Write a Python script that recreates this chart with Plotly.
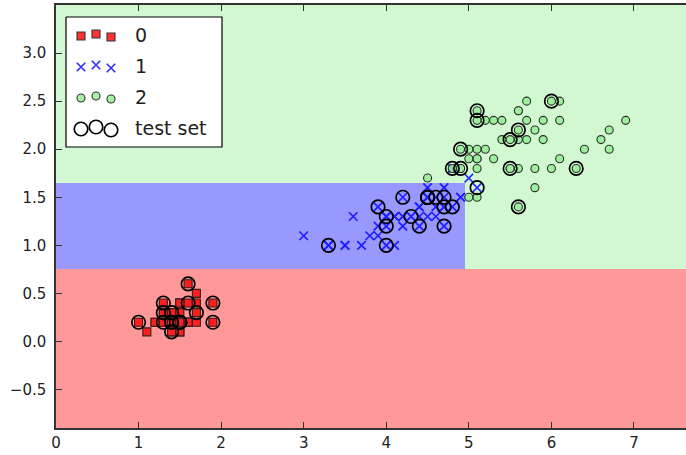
import plotly.graph_objects as go

# Iris petal measurements (cm) per class
setosa_length = [1.4, 1.4, 1.3, 1.5, 1.4, 1.7, 1.4, 1.5, 1.4, 1.5,
                 1.5, 1.6, 1.4, 1.1, 1.2, 1.5, 1.3, 1.4, 1.7, 1.5,
                 1.7, 1.5, 1.0, 1.7, 1.9, 1.6, 1.6, 1.5, 1.4, 1.6,
                 1.6, 1.5, 1.5, 1.4, 1.5, 1.2, 1.3, 1.4, 1.3, 1.5,
                 1.3, 1.3, 1.3, 1.6, 1.9, 1.4, 1.6, 1.4, 1.5, 1.4]
setosa_width = [0.2, 0.2, 0.2, 0.2, 0.2, 0.4, 0.3, 0.2, 0.2, 0.1,
                0.2, 0.2, 0.1, 0.1, 0.2, 0.4, 0.4, 0.3, 0.3, 0.3,
                0.2, 0.4, 0.2, 0.5, 0.2, 0.2, 0.4, 0.2, 0.2, 0.2,
                0.2, 0.4, 0.1, 0.2, 0.2, 0.2, 0.2, 0.1, 0.2, 0.2,
                0.3, 0.3, 0.2, 0.6, 0.4, 0.3, 0.2, 0.2, 0.2, 0.2]
versicolor_length = [4.7, 4.5, 4.9, 4.0, 4.6, 4.5, 4.7, 3.3, 4.6, 3.9,
                     3.5, 4.2, 4.0, 4.7, 3.6, 4.4, 4.5, 4.1, 4.5, 3.9,
                     4.8, 4.0, 4.9, 4.7, 4.3, 4.4, 4.8, 5.0, 4.5, 3.5,
                     3.8, 3.7, 3.9, 5.1, 4.5, 4.5, 4.7, 4.4, 4.1, 4.0,
                     4.4, 4.6, 4.0, 3.3, 4.2, 4.2, 4.2, 4.3, 3.0, 4.1]
versicolor_width = [1.4, 1.5, 1.5, 1.3, 1.5, 1.3, 1.6, 1.0, 1.3, 1.4,
                    1.0, 1.5, 1.0, 1.4, 1.3, 1.4, 1.5, 1.0, 1.5, 1.1,
                    1.8, 1.3, 1.5, 1.2, 1.3, 1.4, 1.4, 1.7, 1.5, 1.0,
                    1.1, 1.0, 1.2, 1.6, 1.5, 1.6, 1.5, 1.3, 1.3, 1.3,
                    1.2, 1.4, 1.2, 1.0, 1.3, 1.2, 1.3, 1.3, 1.1, 1.3]
virginica_length = [6.0, 5.1, 5.9, 5.6, 5.8, 6.6, 4.5, 6.3, 5.8, 6.1,
                    5.1, 5.3, 5.5, 5.0, 5.1, 5.3, 5.5, 6.7, 6.9, 5.0,
                    5.7, 4.9, 6.7, 4.9, 5.7, 6.0, 4.8, 4.9, 5.6, 5.8,
                    6.1, 6.4, 5.6, 5.1, 5.6, 6.1, 5.6, 5.5, 4.8, 5.4,
                    5.6, 5.1, 5.1, 5.9, 5.7, 5.2, 5.0, 5.2, 5.4, 5.1]
virginica_width = [2.5, 1.9, 2.1, 1.8, 2.2, 2.1, 1.7, 1.8, 1.8, 2.5,
                   2.0, 1.9, 2.1, 2.0, 2.4, 2.3, 1.8, 2.2, 2.3, 1.5,
                   2.3, 2.0, 2.0, 1.8, 2.1, 1.8, 1.8, 1.8, 2.1, 1.6,
                   1.9, 2.0, 2.2, 1.5, 1.4, 2.3, 2.4, 1.8, 1.8, 2.1,
                   2.4, 2.3, 1.9, 2.3, 2.5, 2.3, 1.9, 2.0, 2.3, 1.8]

# Rows (into the concatenated 150-sample array) held out as the test set
test_idx = [114, 62, 33, 107, 7, 100, 40, 86, 76, 71, 134, 51, 73, 54, 63,
            37, 78, 90, 45, 16, 121, 66, 24, 8, 126, 22, 44, 97, 93, 26,
            137, 84, 27, 127, 132, 59, 18, 83, 61, 92, 112, 2, 141, 43, 10]

class_labels = ["0", "1", "2"]

# Split thresholds of the fitted depth-3 decision tree
split_width_low = 0.75
split_length = 4.95
split_width_high = 1.65

x_ticks = [0, 1, 2, 3, 4, 5, 6, 7]
y_ticks = [-0.5, 0.0, 0.5, 1.0, 1.5, 2.0, 2.5, 3.0]


def tree_predict(length, width):
    if width <= split_width_low:
        return 0
    if length <= split_length and width <= split_width_high:
        return 1
    return 2


all_length = setosa_length + versicolor_length + virginica_length
all_width = setosa_width + versicolor_width + virginica_width
x_min, x_max = min(all_length) - 1, max(all_length) + 1
y_min, y_max = min(all_width) - 1, max(all_width) + 1

# Decision regions: cells bounded by the tree's split thresholds
x_edges = [x_min, split_length, x_max]
y_edges = [y_min, split_width_low, split_width_high, y_max]
z = []
for j in range(len(y_edges) - 1):
    yc = (y_edges[j] + y_edges[j + 1]) / 2
    row = []
    for i in range(len(x_edges) - 1):
        xc = (x_edges[i] + x_edges[i + 1]) / 2
        row.append(tree_predict(xc, yc))
    z.append(row)

square_style = dict(symbol="square", size=8, color="red",
                    line=dict(color="black", width=1.1))
cross_style = dict(symbol="x-thin", size=8.5, color="blue",
                   line=dict(color="blue", width=1.7))
circle_style = dict(symbol="circle", size=8, color="lightgreen",
                    line=dict(color="black", width=1.1))
test_style = dict(symbol="circle-open", size=13.5, color="black",
                  line=dict(color="black", width=1.7))

fig = go.Figure()
fig.add_trace(go.Heatmap(
    x=x_edges, y=y_edges, z=z, zmin=0, zmax=2, zsmooth=False,
    colorscale=[[0, "red"], [0.5, "blue"], [1, "lightgreen"]],
    opacity=0.4, showscale=False, hoverinfo="skip"))

fig.add_trace(go.Scatter(
    x=setosa_length, y=setosa_width, mode="markers", name="0",
    opacity=0.8, showlegend=False, marker=square_style))
fig.add_trace(go.Scatter(
    x=versicolor_length, y=versicolor_width, mode="markers", name="1",
    opacity=0.8, showlegend=False, marker=cross_style))
fig.add_trace(go.Scatter(
    x=virginica_length, y=virginica_width, mode="markers", name="2",
    opacity=0.8, showlegend=False, marker=circle_style))
fig.add_trace(go.Scatter(
    x=[all_length[i] for i in test_idx], y=[all_width[i] for i in test_idx],
    mode="markers", name="test set", showlegend=False, marker=test_style))

# Legend drawn in pixel space on an overlay axis pair
W, H = 686, 455
ML, MR, MT, MB = 56, 0, 5, 27
box = dict(x0=66, x1=222, y0=17, y1=147)
row_y = [35, 66, 97, 128]
sample_x = [81, 96, 111]
sample_dy = [1, -1, 2]
text_x = 133

fig.add_trace(go.Scatter(
    x=[box["x0"], box["x1"], box["x1"], box["x0"], box["x0"]],
    y=[box["y0"], box["y0"], box["y1"], box["y1"], box["y0"]],
    xaxis="x2", yaxis="y2", mode="lines", fill="toself",
    fillcolor="white", line=dict(color="black", width=1.2),
    showlegend=False, hoverinfo="skip"))

legend_styles = [square_style, cross_style, circle_style, test_style]
legend_opacity = [0.8, 0.8, 0.8, 1.0]
legend_text = class_labels + ["test set"]
for k, style in enumerate(legend_styles):
    fig.add_trace(go.Scatter(
        x=sample_x, y=[row_y[k] + d for d in sample_dy],
        xaxis="x2", yaxis="y2", mode="markers", marker=style,
        opacity=legend_opacity[k], showlegend=False, hoverinfo="skip"))
    fig.add_annotation(
        x=text_x, y=row_y[k], xref="x2", yref="y2", text=legend_text[k],
        showarrow=False, xanchor="left", yanchor="middle",
        font=dict(family="DejaVu Sans", size=19, color="#222222"))

axis_common = dict(
    showgrid=False, zeroline=False, showline=True, linecolor="#333333",
    linewidth=1.5, ticks="inside", ticklen=6, tickwidth=1.2,
    tickcolor="#333333", tickfont=dict(family="DejaVu Sans", size=15, color="#222222"))

fig.update_layout(
    width=W, height=H,
    margin=dict(l=ML, r=MR, t=MT, b=MB, pad=0),
    paper_bgcolor="white", plot_bgcolor="white",
    xaxis=dict(range=[x_min, 7.63], tickvals=x_ticks, mirror="ticks",
               ticklabelstandoff=0, **axis_common),
    yaxis=dict(range=[y_min, y_max], tickvals=y_ticks, tickformat=".1f",
               mirror=False, ticklabelstandoff=5, **axis_common),
    xaxis2=dict(overlaying="x", range=[ML, W - MR], visible=False, fixedrange=True),
    yaxis2=dict(overlaying="y", range=[H - MB, MT], visible=False, fixedrange=True),
)

fig.write_html("out.html")
